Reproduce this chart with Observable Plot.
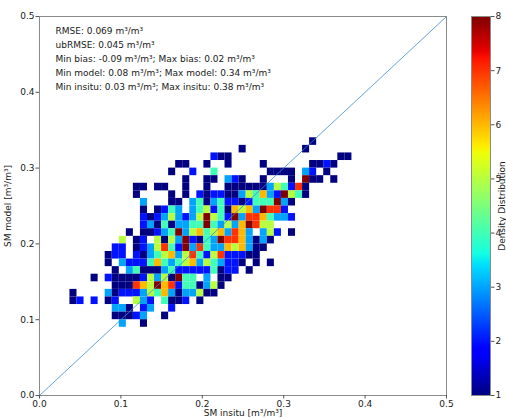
<!DOCTYPE html>
<html><head><meta charset="utf-8">
<script src="https://cdn.jsdelivr.net/npm/d3@7"></script>
<script src="https://cdn.jsdelivr.net/npm/@observablehq/plot@0.6"></script>
<style>
html,body{margin:0;padding:0;background:#fff;overflow:hidden;width:506px;height:418px;}
#wrap{position:relative;width:506px;height:418px;overflow:hidden;font-family:"DejaVu Sans",sans-serif;}
#main{position:absolute;left:0;top:0;width:455px;height:418px;}
#cbar{position:absolute;left:471px;top:0;width:50px;height:418px;}
#wrap svg{max-width:none !important;}
</style></head><body><div id="wrap"><div id="main"></div><div id="cbar"></div></div>
<script>
// ---- data ----
const axisTicks = [0, 0.1, 0.2, 0.3, 0.4, 0.5];
const colorTicks = [1, 2, 3, 4, 5, 6, 7, 8];
const insituBinStart = 0.0374;   // left edge of first in-situ bin
const insituBinWidth = 0.00866;
const modelBinTop = 0.34;        // top edge of first model bin
const modelBinHeight = 0.01;
// counts per bin: one string per model row (top to bottom), one char per in-situ column
const densityRows = [
  ".........." + ".........." + ".........." + "....1.....",
  ".........." + ".........." + "....1....." + "...1......",
  ".........." + ".........." + "211......." + "........11",
  ".........." + ".....11..1" + "..1....1.." + "....1121..",
  ".........." + "....1..2.." + "4.......11" + "11.32.1...",
  ".........." + "......1..1" + "1.321..1.." + ".1.811.1..",
  ".........1" + "1.11..1..1" + "..11111135" + "4271......",
  ".........1" + "....1.1.21" + "2211354632" + "8541......",
  ".........." + "3...11.341" + "3422124448" + "31........",
  ".........." + "1.1243.345" + "2416563877" + "2.........",
  ".........." + "2123532358" + "5428377643" + "32........",
  ".........." + "2314133448" + "435368755." + "..........",
  "........1." + "1123483564" + "563763.352" + ".1........",
  ".......5.1" + "2.51538214" + "387763131." + "..........",
  "......22.1" + "2357428374" + "33656311.." + "..........",
  ".....122.2" + "1345635742" + "5722211..." + "..........",
  ".....1.322" + "2464345635" + "43221.1.1." + "..........",
  "......1.34" + "1113422222" + "4122.1...." + "..........",
  "...1.21111" + "25351844.3" + ".11......." + "..........",
  "......1117" + "6586724413" + "51........" + "..........",
  "1....31222" + "3546313351" + "1........." + "..........",
  "12.2.12..5" + "32.4112.1." + ".........." + "..........",
  "......331." + "23..2....." + ".........." + "..........",
  "......1112" + "3..1......" + ".........." + "..........",
  ".......3.." + "1........." + ".........." + ".........."
];
const statsLines = [
  "RMSE: 0.069 m³/m³",
  "ubRMSE: 0.045 m³/m³",
  "Min bias: -0.09 m³/m³; Max bias: 0.02 m³/m³",
  "Min model: 0.08 m³/m³; Max model: 0.34 m³/m³",
  "Min insitu: 0.03 m³/m³; Max insitu: 0.38 m³/m³"
];
const xLabel = "SM insitu [m³/m³]";
const yLabel = "SM model [m³/m³]";
const colorLabel = "Density Distribution";

// ---- jet colormap (matplotlib segment data) ----
const R = [[0,0],[0.35,0],[0.66,1],[0.89,1],[1,0.5]];
const G = [[0,0],[0.125,0],[0.375,1],[0.64,1],[0.91,0],[1,0]];
const B = [[0,0.5],[0.11,1],[0.34,1],[0.65,0],[1,0]];
function seg(p, t) {
  for (let i = 1; i < p.length; i++) if (t <= p[i][0]) {
    const [t0, v0] = p[i-1], [t1, v1] = p[i];
    return v0 + (v1 - v0) * (t - t0) / (t1 - t0);
  }
  return p[p.length-1][1];
}
const jet = t => { t = Math.max(0, Math.min(1, t)); return d3.rgb(255*seg(R,t), 255*seg(G,t), 255*seg(B,t)).formatHex(); };
const colorScale = {type: "linear", domain: [1, 8], interpolate: jet};

// ---- build cells ----
const cells = [];
densityRows.forEach((row, r) => {
  [...row].forEach((ch, c) => {
    if (ch === ".") return;
    cells.push({
      x1: insituBinStart + c * insituBinWidth,
      x2: insituBinStart + (c + 1) * insituBinWidth,
      y2: modelBinTop - r * modelBinHeight,
      y1: modelBinTop - (r + 1) * modelBinHeight,
      count: +ch
    });
  });
});
const dom = [axisTicks[0], axisTicks[axisTicks.length - 1]];
const fmt = d3.format(".1f");
const font = {fontFamily: "DejaVu Sans", fontSize: "9px", color: "#1a1a1a", background: "transparent", maxWidth: "none"};

const main = Plot.plot({
  width: 455, height: 418,
  marginLeft: 39, marginRight: 9, marginTop: 16, marginBottom: 23,
  style: font,
  x: {domain: dom},
  y: {domain: dom},
  color: colorScale,
  marks: [
    Plot.rect(cells, {x1: "x1", x2: "x2", y1: "y1", y2: "y2", fill: "count", inset: 0}),
    Plot.link([dom], {x1: d => d[0], y1: d => d[0], x2: d => d[1], y2: d => d[1], stroke: "#3b8bd0", strokeWidth: 0.8}),
    Plot.frame({stroke: "#8a8a8a"}),
    Plot.axisX({ticks: axisTicks, tickFormat: fmt, tickSize: 3.5, tickPadding: 1.5, label: null, stroke: "#555"}),
    Plot.axisY({ticks: axisTicks, tickFormat: fmt, tickSize: 3.5, tickPadding: 1.5, label: null, stroke: "#555"}),
    Plot.text([statsLines.join("\n")], {frameAnchor: "top-left", dx: 16, dy: 41.3, textAnchor: "start", lineAnchor: "middle", lineHeight: 1.556, fontSize: 9, fill: "#1a1a1a"}),
    Plot.text([xLabel], {frameAnchor: "bottom", dy: 18, textAnchor: "middle", lineAnchor: "middle", fontSize: 9, fill: "#1a1a1a"}),
    Plot.text([yLabel], {frameAnchor: "left", dx: -31, rotate: -90, textAnchor: "middle", lineAnchor: "middle", fontSize: 9, fill: "#1a1a1a"})
  ]
});
document.getElementById("main").appendChild(main);

const cb = Plot.plot({
  width: 50, height: 418,
  marginLeft: 0, marginRight: 31, marginTop: 16, marginBottom: 23,
  style: font,
  x: {domain: [0, 1], axis: null},
  y: {domain: [colorTicks[0], colorTicks[colorTicks.length - 1]]},
  color: colorScale,
  marks: [
    Plot.raster({fill: (x, y) => y, x1: 0, x2: 1, y1: colorTicks[0], y2: colorTicks[colorTicks.length - 1], width: 2, height: 380}),
    Plot.frame({stroke: "#8a8a8a"}),
    Plot.axisY({anchor: "right", ticks: colorTicks, tickFormat: d => String(d), tickSize: 3.5, tickPadding: 1.5, label: null, stroke: "#555"}),
    Plot.text([colorLabel], {frameAnchor: "right", dx: 11.5, rotate: -90, textAnchor: "middle", lineAnchor: "middle", fontSize: 9, fill: "#1a1a1a"})
  ]
});
document.getElementById("cbar").appendChild(cb);
</script>
</body></html>
